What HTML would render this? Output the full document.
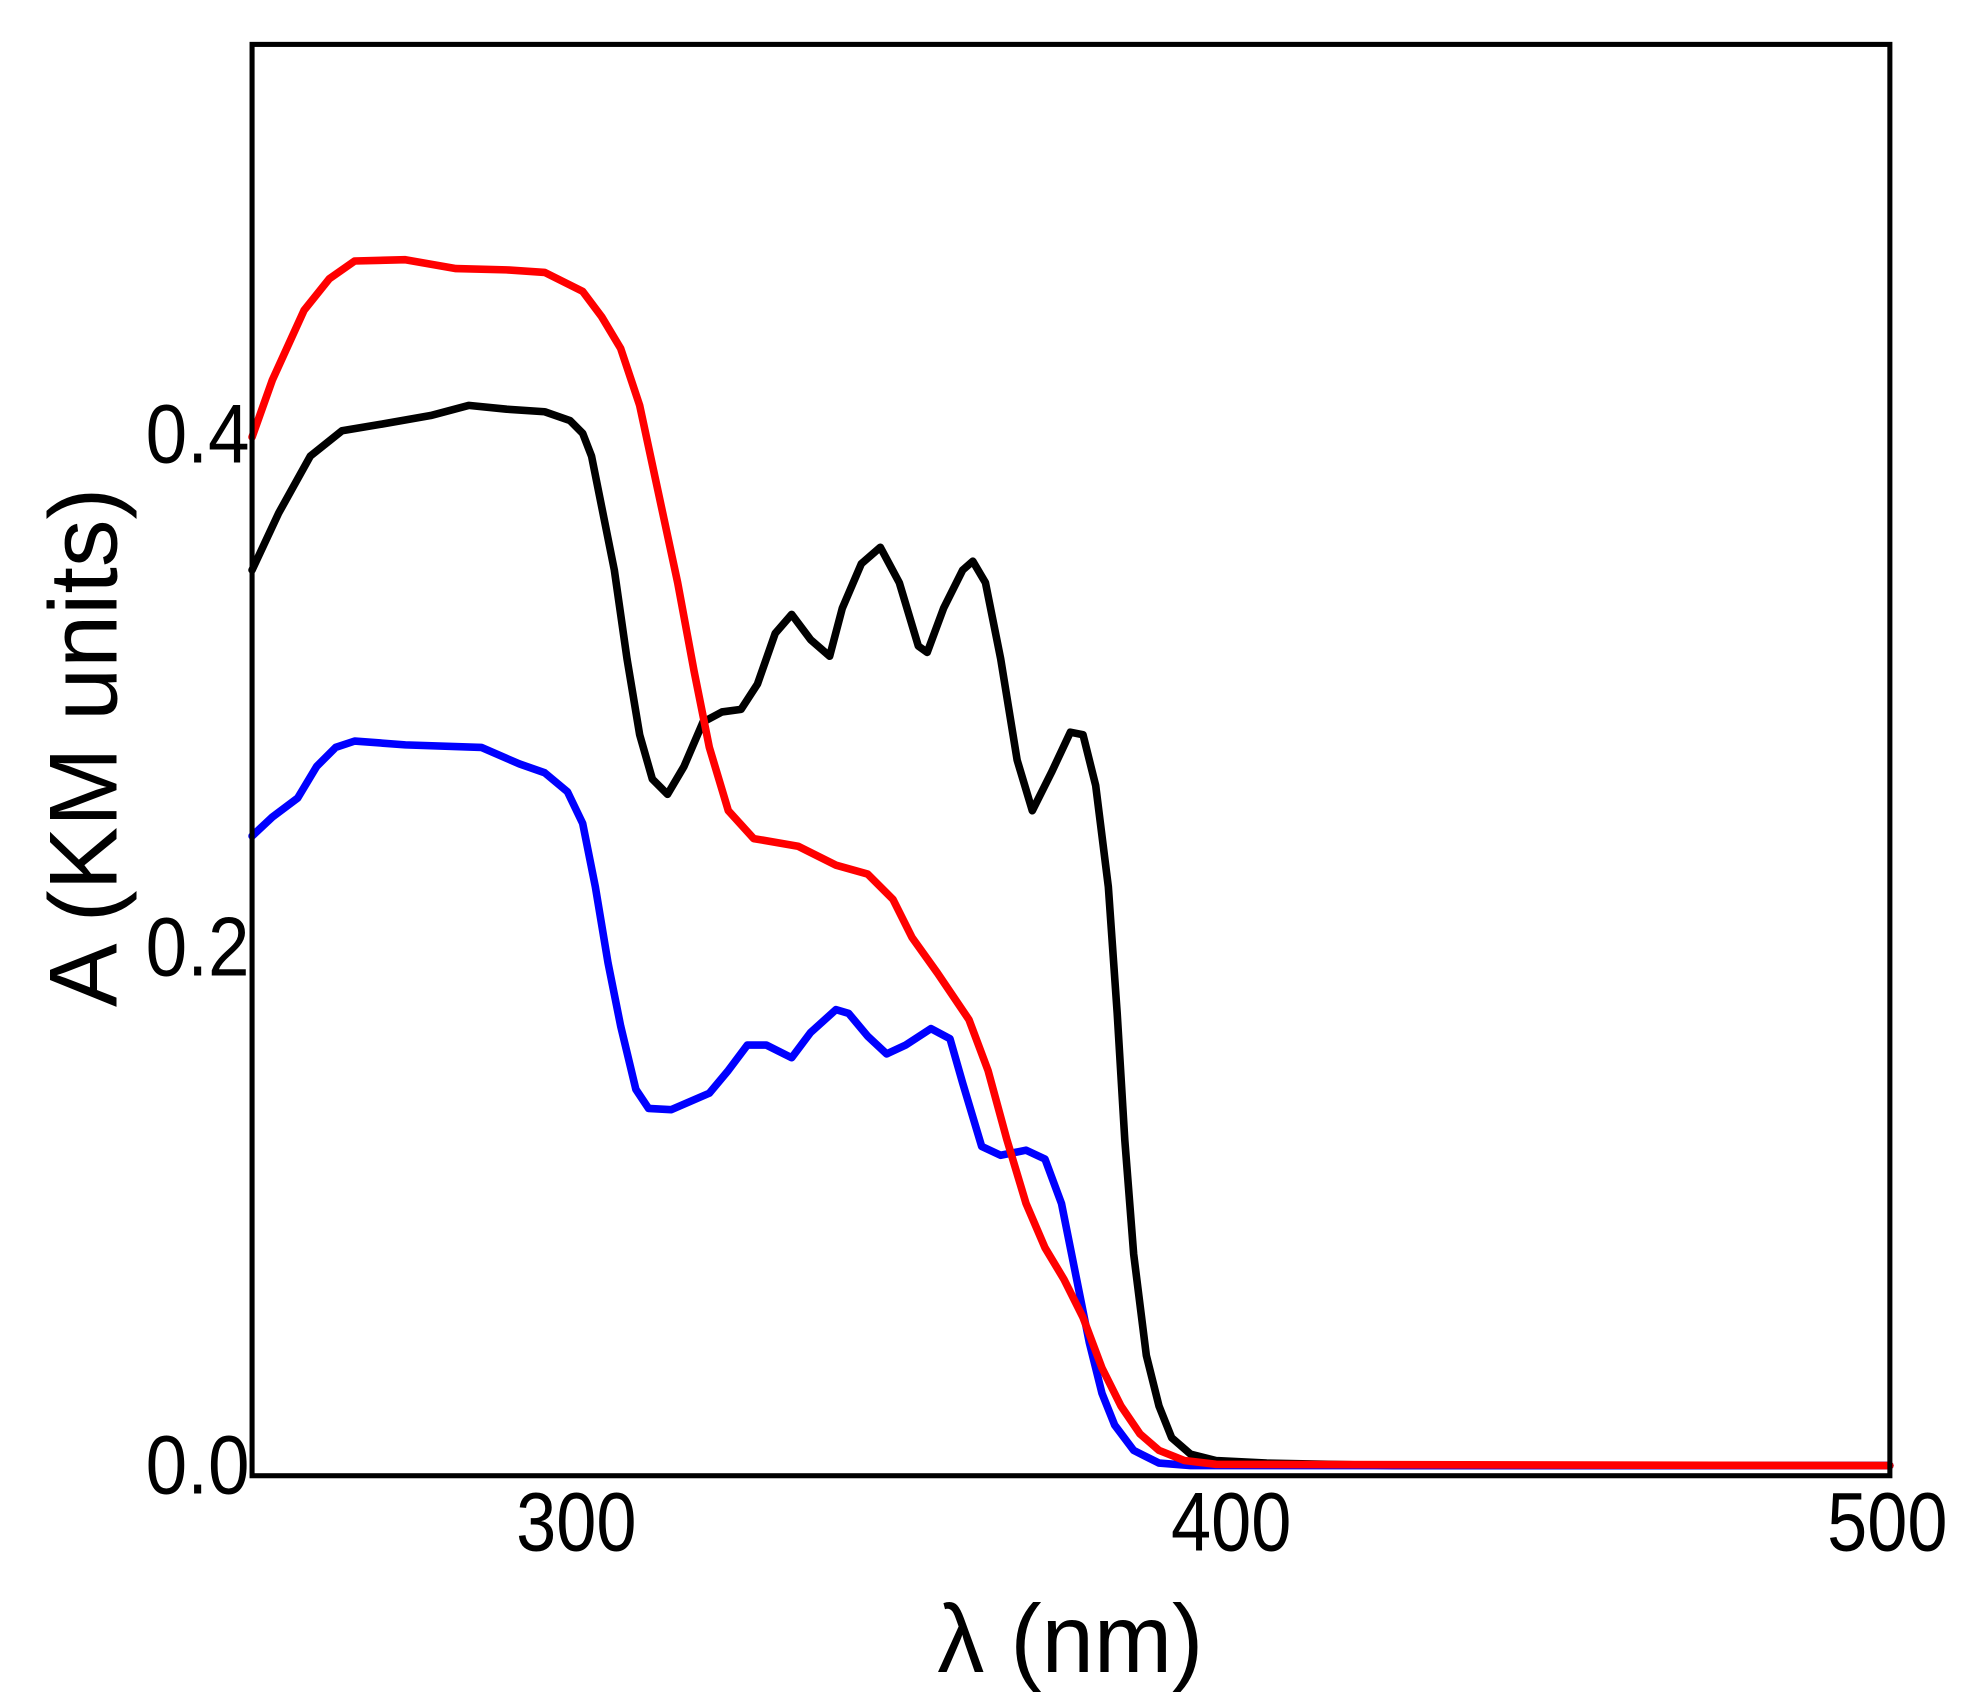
<!DOCTYPE html>
<html><head><meta charset="utf-8"><style>html,body{margin:0;padding:0;background:#fff}svg{display:block}</style></head>
<body>
<svg width="1976" height="1700" viewBox="0 0 1560 1342" xmlns="http://www.w3.org/2000/svg">
<rect width="1560" height="1342" fill="#fff"/>
<g fill="none" stroke-width="6" stroke-linejoin="round" stroke-linecap="round">
<polyline stroke="#000" points="199,450 220,405 245,360 270,340 300,335 340,328 370,320 400,323 430,325 450,332 460,342 467,360 475,400 485,450 495,520 505,580 515,615 527,627 540,605 555,570 570,562 585,560 598,540 612,500 625,485 640,505 655,518 665,480 680,445 695,432 710,460 725,510 732,515 745,480 760,450 768,443 778,460 790,520 803,600 815,640 830,610 845,578 855,580 865,620 875,700 882,800 888,900 895,990 905,1070 915,1110 925,1135 940,1148 960,1153 1000,1155 1100,1157 1492,1157"/>
<polyline stroke="#0000ff" points="199,660 215,645 235,630 250,605 265,590 280,585 320,588 380,590 410,603 430,610 448,625 460,650 470,700 480,760 490,810 502,860 512,875 530,876 560,863 575,845 590,825 605,825 625,835 640,815 660,797 670,800 685,818 700,832 715,825 735,812 750,820 760,855 775,905 790,912 810,908 825,915 838,950 850,1010 860,1060 870,1100 880,1125 895,1145 915,1155 940,1157 1492,1157"/>
<polyline stroke="#ff0000" points="199,345 215,300 240,245 260,220 280,206 320,205 360,212 400,213 430,215 460,230 475,250 490,275 505,320 520,390 535,460 548,530 560,590 575,640 595,662 630,668 660,683 685,690 705,710 720,740 740,768 765,805 780,845 795,900 810,950 825,985 840,1010 855,1040 870,1080 885,1110 900,1132 915,1145 935,1153 960,1156 1492,1157"/>
</g>
<rect x="199" y="35" width="1293" height="1130" fill="none" stroke="#000" stroke-width="4"/>
<g font-family="Liberation Sans, Arial, sans-serif" font-size="66" fill="#000">
<text x="197" y="365" text-anchor="end" textLength="82" lengthAdjust="spacingAndGlyphs">0.4</text>
<text x="197" y="770" text-anchor="end" textLength="82" lengthAdjust="spacingAndGlyphs">0.2</text>
<text x="197" y="1179" text-anchor="end" textLength="82" lengthAdjust="spacingAndGlyphs">0.0</text>
<text x="455" y="1224" text-anchor="middle" textLength="95" lengthAdjust="spacingAndGlyphs">300</text>
<text x="972" y="1224" text-anchor="middle" textLength="95" lengthAdjust="spacingAndGlyphs">400</text>
<text x="1490" y="1224" text-anchor="middle" textLength="95" lengthAdjust="spacingAndGlyphs">500</text>
</g>
<g font-family="Liberation Sans, Arial, sans-serif" font-size="76" fill="#000">
<text x="845" y="1320" text-anchor="middle" textLength="210" lengthAdjust="spacingAndGlyphs">λ (nm)</text>
<text transform="translate(92,590) rotate(-90)" text-anchor="middle" textLength="410" lengthAdjust="spacingAndGlyphs">A (KM units)</text>
</g>
</svg>
</body></html>
